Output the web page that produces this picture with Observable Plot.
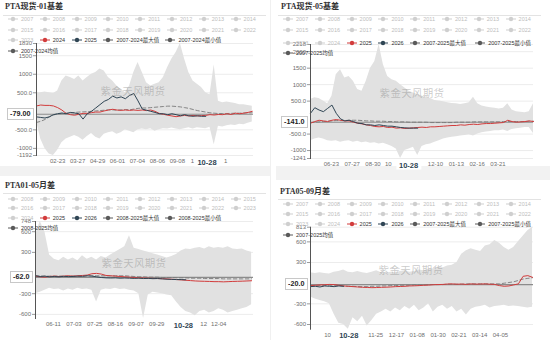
<!DOCTYPE html>
<html><head><meta charset="utf-8">
<script src="https://cdn.jsdelivr.net/npm/d3@7"></script>
<script src="https://cdn.jsdelivr.net/npm/@observablehq/plot@0.6"></script>
<style>
body{margin:0;background:#fff;}
#root{position:relative;width:550px;height:340px;overflow:hidden;background:#fff;font-family:"Liberation Sans","Noto Sans CJK SC",sans-serif;}
#root svg{overflow:visible;}
</style></head><body><div id="root"></div>
<script>
// ---------- Panel 1: PTA现货-01基差 ----------
const p1Title = "PTA现货-01基差";
const p1Legend = [["2007","2008","2009","2010","2011","2012","2013","2014"],["2015","2016","2017","2018","2019","2020","2021","2022"],["2023","2024","2025","2007-2024最大值","2007-2024最小值"],["2007-2024均值"]];
const p1RedName = "2024", p1NavyName = "2025";
const p1Start = "2024-01-19", p1Step = 7;
const p1XDomain = ["2024-01-19","2025-01-12"];
const p1YDomain = [-1192, 1830];
const p1YTicks = [1830,1500,1000,500,-500,-1000,-1192];
const p1YLabels = ["1830","1500","1000","500.0","-500.0","-1000","-1192"];
const p1XTicks = ["2024-02-23","2024-03-27","2024-04-29","2024-06-01","2024-07-04","2024-08-06","2024-09-08","2024-10-03","2024-11-27"];
const p1XLabels = ["02-23","03-27","04-29","06-01","07-04","08-06","09-08","1","1"];
const p1Today = "2024-10-28", p1TodayLabel = "10-28";
const p1Current = -79, p1CurrentLabel = "-79.00";
const p1Max = [500,500,520,500,480,550,820,950,910,860,950,820,910,1000,1050,1140,1090,910,820,680,590,500,680,1050,1320,1050,770,680,730,770,910,1180,1410,1590,1830,1410,1050,820,730,640,500,450,1250,270,230,250,230,210,180,180,155,140];
const p1Min = [-270,-750,-1000,-1150,-1192,-1050,-850,-750,-700,-650,-700,-780,-680,-600,-700,-750,-620,-580,-550,-620,-580,-500,-540,-580,-500,-480,-500,-470,-540,-500,-470,-480,-450,-480,-500,-470,-440,-480,-440,-460,-470,-430,-900,-400,-420,-390,-370,-380,-350,-360,-320,-290];
const p1Mean = [-300,-270,-220,-150,-100,-70,-60,-50,-40,-30,-20,-15,-10,0,10,20,30,40,40,30,40,50,40,60,80,90,90,100,110,120,130,140,140,130,120,100,80,50,20,0,-20,-40,-50,-60,-60,-60,-55,-50,-50,-45,-40,-40];
const p1Red = [145,170,160,160,145,100,35,-55,-90,-105,-80,-55,-55,-35,-20,-20,10,35,55,35,25,35,25,35,25,35,20,35,0,-55,-80,-105,-125,-145,-125,-110,-125,-110,-125,-115,-110,-90,-100,-85,-90,-65,-85,-50,-65,-50,-30,0];
const p1Navy = [-150,-165,-180,-150,-90,-65,-45,-65,-30,-45,-65,-210,-65,0,90,180,270,320,410,360,390,340,430,480,280,60,30,0,-30,-65,-65,-90,-65,-90,-120,-90,-120,-135,-120,-135,-135];

// ---------- Panel 2: PTA现货-05基差 ----------
const p2Title = "PTA现货-05基差";
const p2Legend = [["2007","2008","2009","2010","2011","2012","2013","2014"],["2015","2016","2017","2018","2019","2020","2021","2022"],["2023","2024","2025","2026","2007-2025最大值","2007-2025最小值"],["2007-2025均值"]];
const p2RedName = "2025", p2NavyName = "2026";
const p2Start = "2023-05-20", p2Step = 7;
const p2XDomain = ["2023-05-20","2024-05-18"];
const p2YDomain = [-1241, 2218];
const p2YTicks = [2218,2000,1500,1000,500,-500,-1000,-1241];
const p2YLabels = ["2218","2000","1500","1000","500.0","-500.0","-1000","-1241"];
const p2XTicks = ["2023-06-23","2023-07-27","2023-08-30","2023-09-24","2023-12-10","2024-01-13","2024-02-16","2024-03-21"];
const p2XLabels = ["06-23","07-27","08-30","10","12-10","01-13","02-16","03-21"];
const p2Today = "2023-10-28", p2TodayLabel = "10-28";
const p2Current = -141, p2CurrentLabel = "-141.0";
const p2Max = [550,600,580,500,420,650,1300,1450,1200,1250,1100,850,800,1100,1500,1700,2218,1600,1250,1150,1100,1000,900,800,750,700,650,620,580,520,500,480,450,430,420,400,420,450,620,420,350,320,300,280,260,280,420,230,180,160,150,180,420];
const p2Min = [-700,-650,-620,-650,-700,-720,-700,-750,-720,-700,-750,-720,-760,-740,-780,-760,-800,-780,-820,-880,-950,-1241,-1000,-950,-900,-1150,-880,-820,-800,-750,-700,-650,-620,-600,-580,-560,-540,-520,-560,-500,-460,-440,-420,-400,-400,-380,-420,-360,-340,-320,-300,-300,-480];
const p2Mean = [-150,-140,-130,-120,-110,-100,-90,-90,-90,-80,-80,-80,-90,-100,-100,-110,-110,-110,-120,-120,-130,-130,-130,-140,-140,-140,-140,-140,-150,-150,-150,-150,-150,-150,-140,-140,-140,-140,-130,-130,-130,-130,-130,-130,-130,-120,-120,-120,-120,-120,-120,-110,-110];
const p2Red = [-170,-120,-80,-100,-120,-80,-60,-80,-100,-100,-140,-170,-190,-220,-240,-270,-280,-270,-300,-290,-320,-310,-330,-320,-310,-300,-290,-300,-280,-280,-270,-260,-250,-240,-240,-220,-230,-210,-200,-210,-190,-180,-180,-170,-160,-150,-80,-120,-140,-130,-120,-100,-120];
const p2Navy = [130,300,230,180,280,380,130,-40,-100,-80,-120,-170,-180,-220,-220,-240,-220,-240,-260,-260,-280,-300,-310,-320,-320,-320];

// ---------- Panel 3: PTA01-05月差 ----------
const p3Title = "PTA01-05月差";
const p3Legend = [["2008","2009","2010","2011","2012","2013","2014","2015"],["2016","2017","2018","2019","2020","2021","2022","2023"],["2024","2025","2026","2008-2025最大值","2008-2025最小值"],["2008-2025均值"]];
const p3RedName = "2025", p3NavyName = "2026";
const p3Start = "2025-05-23", p3Step = 5;
const p3XDomain = ["2025-05-23","2026-01-10"];
const p3YDomain = [-660, 748];
const p3YTicks = [748,600,300,-300,-600];
const p3YLabels = ["748","600","300","-300","-600"];
const p3XTicks = ["2025-06-11","2025-07-03","2025-07-25","2025-08-16","2025-09-07","2025-09-29","2025-11-18","2025-12-04"];
const p3XLabels = ["06-11","07-03","07-25","08-16","09-07","09-29","12","12-04"];
const p3Today = "2025-10-28", p3TodayLabel = "10-28";
const p3Current = -62, p3CurrentLabel = "-62.0";
const p3Max = [550,748,600,260,200,180,230,190,220,180,250,200,230,190,240,220,260,300,340,380,540,360,340,320,300,280,260,240,220,240,270,320,350,340,360,370,350,380,360,370,360,380,350,340,350,320,300];
const p3Min = [-300,-280,-250,-220,-240,-230,-260,-230,-250,-220,-240,-230,-250,-420,-250,-230,-240,-220,-240,-230,-250,-260,-300,-660,-320,-280,-290,-300,-320,-330,-420,-500,-560,-580,-620,-560,-540,-580,-560,-520,-540,-580,-560,-540,-520,-500,-460];
const p3Mean = [-40,-45,-45,-45,-45,-45,-45,-45,-45,-45,-45,-40,-40,-40,-40,-40,-40,-40,-40,-40,-45,-50,-55,-55,-60,-60,-60,-65,-65,-65,-70,-70,-70,-75,-75,-75,-80,-80,-80,-80,-85,-85,-85,-85,-85,-85,-85];
const p3Red = [-45,-55,-60,-50,-45,-50,-45,-40,-45,-40,-35,-30,-10,-5,-15,-35,-40,-45,-50,-55,-60,-65,-70,-72,-75,-78,-80,-82,-85,-90,-95,-100,-105,-110,-115,-118,-120,-122,-125,-125,-128,-125,-122,-120,-118,-115,-112];
const p3Navy = [-40,-50,-45,-55,-50,-55,-48,-52,-50,-45,-48,-40,-45,-55,-65,-70,-72,-70,-75,-72,-75,-78,-75,-80,-78,-82,-80,-85,-90,-92,-95,-95,-98];

// ---------- Panel 4: PTA05-09月差 ----------
const p4Title = "PTA05-09月差";
const p4Legend = [["2007","2008","2009","2010","2011","2012","2013","2014"],["2015","2016","2017","2018","2019","2020","2021","2022"],["2023","2024","2025","2026","2007-2025最大值","2007-2025最小值"],["2007-2025均值"]];
const p4RedName = "2025", p4NavyName = "2026";
const p4Start = "2023-09-17", p4Step = 5;
const p4XDomain = ["2023-09-17","2024-05-10"];
const p4YDomain = [-668, 813];
const p4YTicks = [813,600,300,-300,-600];
const p4YLabels = ["813","600","300","-300","-600"];
const p4XTicks = ["2023-10-05","2023-11-25","2023-12-17","2024-01-08","2024-01-30","2024-02-21","2024-03-14","2024-04-05"];
const p4XLabels = ["10","11-25","12-17","01-08","01-30","02-21","03-14","04-05"];
const p4Today = "2023-10-28", p4TodayLabel = "10-28";
const p4Current = -20, p4CurrentLabel = "-20.0";
const p4Max = [150,140,150,140,135,160,170,190,160,150,170,150,140,160,180,150,140,160,150,170,180,160,170,190,180,200,210,230,220,250,260,300,420,470,500,480,460,540,560,620,580,520,480,520,600,680,760,813];
const p4Min = [-200,-230,-250,-270,-300,-450,-580,-600,-668,-500,-560,-480,-620,-540,-450,-420,-380,-420,-360,-400,-340,-380,-320,-400,-360,-300,-420,-350,-320,-380,-340,-420,-380,-460,-380,-350,-340,-320,-360,-340,-330,-320,-340,-330,-340,-350,-360,-350];
const p4Mean = [-40,-40,-35,-35,-30,-30,-35,-40,-45,-45,-50,-50,-50,-45,-45,-40,-40,-35,-35,-30,-30,-30,-25,-25,-25,-20,-20,-20,-20,-15,-15,-15,-15,-10,-10,-10,-10,-10,-10,-10,-10,0,10,20,40,60,70,80];
const p4Red = [-35,-30,-25,-22,-18,-20,-30,-40,-45,-50,-55,-60,-62,-65,-63,-60,-58,-55,-50,-48,-45,-40,-38,-35,-30,-28,-22,-20,-18,-12,-10,-15,-12,-18,-10,-14,-12,-10,-15,-18,-35,-45,-40,-25,-10,100,110,85];
const p4Navy = [-50,-45,-55,-40,-45,-50,-40,-45];

const watermark = "紫金天风期货";

// ---------- build ----------
const root = document.getElementById("root");
function addDiv(css, text) {
  const d = document.createElement("div");
  d.style.cssText = "position:absolute;" + css;
  if (text != null) d.textContent = text;
  root.appendChild(d);
  return d;
}
// separators
addDiv("left:0;top:166px;width:270px;height:10px;background:#f2f2f2;");
addDiv("left:276px;top:166px;width:274px;height:14px;background:#f2f2f2;");
addDiv("left:270px;top:0;width:1px;height:340px;background:#f0f0f0;");

const COLORS = {red:"#d23c3c", navy:"#2f4554", stat:"#5a5a5a", off:"#cfcfcf"};

function drawPanel(L, D) {
  addDiv(`left:${L.titleX}px;top:${L.titleY - 5}px;font:bold 8px "Liberation Serif","Noto Sans CJK SC",serif;color:#333;white-space:nowrap;line-height:10px;`, D.title);
  addDiv(`left:${L.divX0}px;top:${L.divY}px;width:${L.divW}px;height:1px;background:#e3e3e3;`);

  const s = new Date(D.start);
  const at = i => d3.utcDay.offset(s, i * D.step);
  const band = D.max.map((v, i) => ({date: at(i), max: v, min: D.min[i], mean: D.mean[i]}));
  const red = D.red.map((v, i) => ({date: at(i), v}));
  const navy = D.navy.map((v, i) => ({date: at(i), v}));
  const xt = D.xTicks.map(t => new Date(t));
  const xl = new Map(xt.map((d, i) => [+d, D.xLabels[i]]));
  const yl = new Map(D.yTicks.map((v, i) => [v, D.yLabels[i]]));

  const chart = Plot.plot({
    width: L.w, height: L.h,
    marginLeft: L.ml, marginRight: L.mr, marginTop: L.mt, marginBottom: L.mb,
    style: {background: "transparent", fontFamily: "Liberation Sans, Arial, sans-serif", fontSize: "6px", color: "#6e6e6e", overflow: "visible"},
    x: {type: "utc", domain: [new Date(D.xDomain[0]), new Date(D.xDomain[1])]},
    y: {domain: D.yDomain},
    marks: [
      Plot.gridY({ticks: D.yTicks, stroke: "#ececec", strokeOpacity: 1}),
      Plot.areaY(band, {x: "date", y1: "min", y2: "max", fill: "#e1e1e1"}),
      Plot.ruleY([D.current], {stroke: "#8c8c8c", strokeWidth: 1.2}),
      Plot.lineY(band, {x: "date", y: "mean", stroke: "#7a7a7a", strokeWidth: 0.9, strokeDasharray: "3.5,2.5"}),
      Plot.lineY(red, {x: "date", y: "v", stroke: COLORS.red, strokeWidth: 1}),
      Plot.lineY(navy, {x: "date", y: "v", stroke: COLORS.navy, strokeWidth: 1}),
      Plot.axisY({ticks: D.yTicks, tickFormat: v => yl.get(v), tickSize: 3, tickPadding: 1.5, label: null, stroke: "#9a9a9a"}),
      Plot.axisX({ticks: xt, tickFormat: d => xl.get(+d), tickSize: 0, tickPadding: 3.5, label: null}),
      Plot.frame({anchor: "left", stroke: "#555"})
    ]
  });
  chart.style.position = "absolute";
  chart.style.left = L.left + "px";
  chart.style.top = L.top + "px";
  root.appendChild(chart);

  addDiv(`left:${L.wmX}px;top:${L.wmY}px;transform:translate(-50%,-50%);font:10.5px "Noto Sans CJK SC",sans-serif;color:rgba(140,140,140,0.45);white-space:nowrap;letter-spacing:0.3px;`, watermark);

  const cy = chart.scale("y").apply(D.current) + L.top;
  addDiv(`right:${550 - (L.left + L.ml - 2.5)}px;top:${cy}px;transform:translateY(-50%);font:bold 7.2px "Liberation Sans",sans-serif;color:#222;background:#fff;border:0.6px solid #c8c8c8;padding:1px 2px;line-height:8px;white-space:nowrap;`, D.currentLabel);

  const tx = chart.scale("x").apply(new Date(D.today)) + L.left;
  addDiv(`left:${tx}px;top:${L.top + L.h - L.mb + 6.5}px;transform:translate(-50%,-50%);font:bold 7.5px "Liberation Sans",sans-serif;color:#2f4554;background:#fff;padding:0 3px;line-height:9px;white-space:nowrap;`, D.todayLabel);

  D.legend.forEach((row, r) => {
    const ly = L.legendY[r];
    let x = L.legendX;
    row.forEach(name => {
      const role = name === D.redName ? "red" : name === D.navyName ? "navy" : /值$/.test(name) ? "stat" : "off";
      const col = COLORS[role];
      const tcol = role === "off" ? "#bdbdbd" : "#333";
      const item = addDiv(`left:${x - 5}px;top:${ly - 4}px;height:8px;display:flex;align-items:center;white-space:nowrap;font-size:5.5px;line-height:8px;color:${tcol};`);
      item.innerHTML = `<svg width="10" height="6" style="margin-right:3px;overflow:visible"><line x1="0" y1="3" x2="10" y2="3" stroke="${col}" stroke-width="1"/><circle cx="5" cy="3" r="2.2" fill="${col}"/></svg><span>${name}</span>`;
      x += role === "stat" ? L.statGap : 31.8;
    });
  });
}

drawPanel(
  {left: 0, top: 0, w: 270, h: 168, ml: 36, mr: 17, mt: 43, mb: 13, titleX: 5, titleY: 7, divX0: 3, divY: 15, divW: 263, wmX: 133, wmY: 90, legendX: 13, legendY: [19.3, 30, 40.3, 50.7], statGap: 62},
  {title: p1Title, legend: p1Legend, redName: p1RedName, navyName: p1NavyName, start: p1Start, step: p1Step, xDomain: p1XDomain, yDomain: p1YDomain, yTicks: p1YTicks, yLabels: p1YLabels, xTicks: p1XTicks, xLabels: p1XLabels, today: p1Today, todayLabel: p1TodayLabel, current: p1Current, currentLabel: p1CurrentLabel, max: p1Max, min: p1Min, mean: p1Mean, red: p1Red, navy: p1Navy}
);
drawPanel(
  {left: 276, top: 0, w: 274, h: 168, ml: 34, mr: 17, mt: 44, mb: 10, titleX: 281, titleY: 7, divX0: 278, divY: 15, divW: 263, wmX: 412, wmY: 92, legendX: 288, legendY: [19.3, 30, 42.7, 52.7], statGap: 65},
  {title: p2Title, legend: p2Legend, redName: p2RedName, navyName: p2NavyName, start: p2Start, step: p2Step, xDomain: p2XDomain, yDomain: p2YDomain, yTicks: p2YTicks, yLabels: p2YLabels, xTicks: p2XTicks, xLabels: p2XLabels, today: p2Today, todayLabel: p2TodayLabel, current: p2Current, currentLabel: p2CurrentLabel, max: p2Max, min: p2Min, mean: p2Mean, red: p2Red, navy: p2Navy}
);
drawPanel(
  {left: 0, top: 176, w: 270, h: 164, ml: 35, mr: 17, mt: 45, mb: 22, titleX: 5, titleY: 186, divX0: 3, divY: 193, divW: 263, wmX: 134, wmY: 262, legendX: 13, legendY: [199, 208.3, 218.3, 227.7], statGap: 62},
  {title: p3Title, legend: p3Legend, redName: p3RedName, navyName: p3NavyName, start: p3Start, step: p3Step, xDomain: p3XDomain, yDomain: p3YDomain, yTicks: p3YTicks, yLabels: p3YLabels, xTicks: p3XTicks, xLabels: p3XLabels, today: p3Today, todayLabel: p3TodayLabel, current: p3Current, currentLabel: p3CurrentLabel, max: p3Max, min: p3Min, mean: p3Mean, red: p3Red, navy: p3Navy}
);
drawPanel(
  {left: 276, top: 176, w: 274, h: 164, ml: 34, mr: 17, mt: 50.7, mb: 11.3, titleX: 280, titleY: 192, divX0: 278, divY: 199, divW: 263, wmX: 411, wmY: 269, legendX: 288, legendY: [204, 213.7, 224.3, 235], statGap: 65},
  {title: p4Title, legend: p4Legend, redName: p4RedName, navyName: p4NavyName, start: p4Start, step: p4Step, xDomain: p4XDomain, yDomain: p4YDomain, yTicks: p4YTicks, yLabels: p4YLabels, xTicks: p4XTicks, xLabels: p4XLabels, today: p4Today, todayLabel: p4TodayLabel, current: p4Current, currentLabel: p4CurrentLabel, max: p4Max, min: p4Min, mean: p4Mean, red: p4Red, navy: p4Navy}
);
</script></body></html>
